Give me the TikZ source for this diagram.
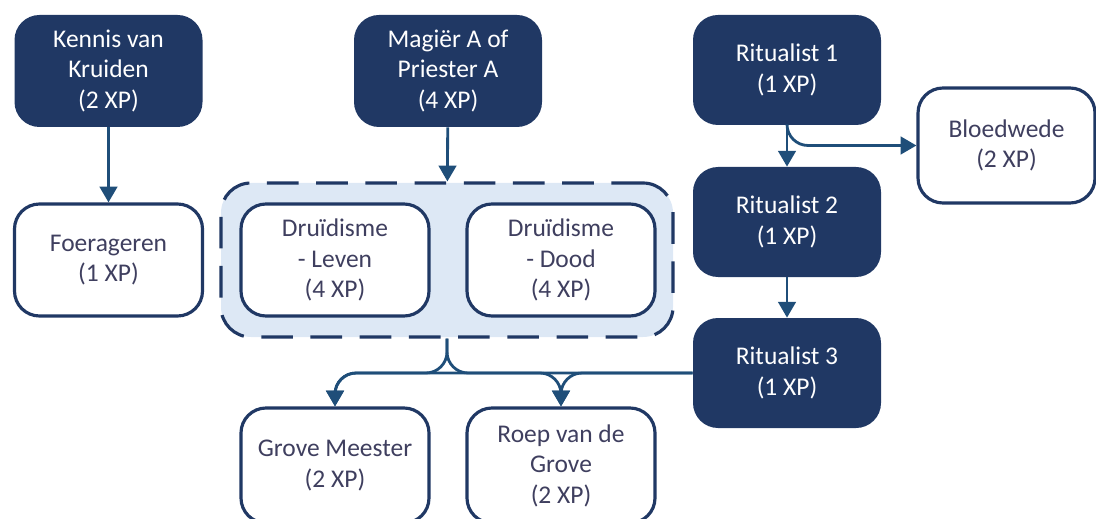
\documentclass[tikz,border=0pt]{standalone}
\usepackage{fontspec}
\setmainfont{Carlito}
\usepackage{tikz}
\usetikzlibrary{arrows.meta}
\definecolor{navyc}{HTML}{203864}
\definecolor{linkc}{HTML}{1F4E79}
\definecolor{groupc}{HTML}{DDE8F5}
\definecolor{textc}{HTML}{3F3F5F}

\begin{document}
\begin{tikzpicture}[
    skill/.style={rounded corners=0.5cm, minimum width=3.76cm, minimum height=2.24cm,
      align=center, font=\fontsize{14.5}{17.4}\selectfont},
    req/.style={skill, fill=navyc, text=white},
    opt/.style={skill, draw=navyc, line width=1.8pt, fill=white, text=textc},
    conn/.style={linkc, line width=1.6pt, -{Triangle[width=10pt,length=9pt]}}]
  \useasboundingbox (0,0) rectangle (21.92,10.36);
  % top row
  \node[req] (kennis) at (2.17,8.94) {Kennis van\\Kruiden\\(2 XP)};
  \node[req] (magier) at (8.96,8.94) {Magiër A of\\Priester A\\(4 XP)};
  \node[req, minimum height=2.2cm] (rit1) at (15.74,8.96) {Ritualist 1\\(1 XP)};
  \node[req, minimum height=2.2cm] (rit2) at (15.74,5.92) {Ritualist 2\\(1 XP)};
  \node[req, minimum height=2.2cm] (rit3) at (15.74,2.90) {Ritualist 3\\(1 XP)};
  \node[opt, minimum width=3.54cm, minimum height=2.3cm] (bloed) at (20.13,7.45) {Bloedwede\\(2 XP)};
  % druidism group
  \node[draw=navyc, fill=groupc, line width=1.8pt, dash pattern=on 18pt off 10pt,
    rounded corners=0.6cm, minimum width=9.04cm, minimum height=3.08cm] (grp) at (8.94,5.16) {};
  \node[opt] (foerag) at (2.17,5.16) {Foerageren\\(1 XP)};
  \node[opt] (leven) at (6.70,5.16) {Druïdisme\\- Leven\\(4 XP)};
  \node[opt] (dood) at (11.22,5.16) {Druïdisme\\- Dood\\(4 XP)};
  \node[opt, minimum height=2.3cm] (grove) at (6.70,1.05) {Grove Meester\\(2 XP)};
  \node[opt, minimum height=2.3cm] (roep) at (11.22,1.05) {Roep van de\\Grove\\(2 XP)};

  \draw[conn] (kennis) -- (foerag);
  \draw[conn] (magier) -- (grp);
  \draw[conn] (rit1) -- (rit2);
  \draw[conn] (rit2) -- (rit3);
  \draw[conn, rounded corners=12pt] (rit1.south) |- (bloed.west);
  \draw[conn, rounded corners=12pt] (grp.south) -- (grp.south |- rit3.west) -| (grove.north);
  \draw[conn, rounded corners=12pt] (grp.south) -- (grp.south |- rit3.west) -| (roep.north);
  \draw[conn, rounded corners=12pt] (rit3.west) -| (grove.north);
  \draw[conn, rounded corners=12pt] (rit3.west) -| (roep.north);
\end{tikzpicture}
\end{document}
